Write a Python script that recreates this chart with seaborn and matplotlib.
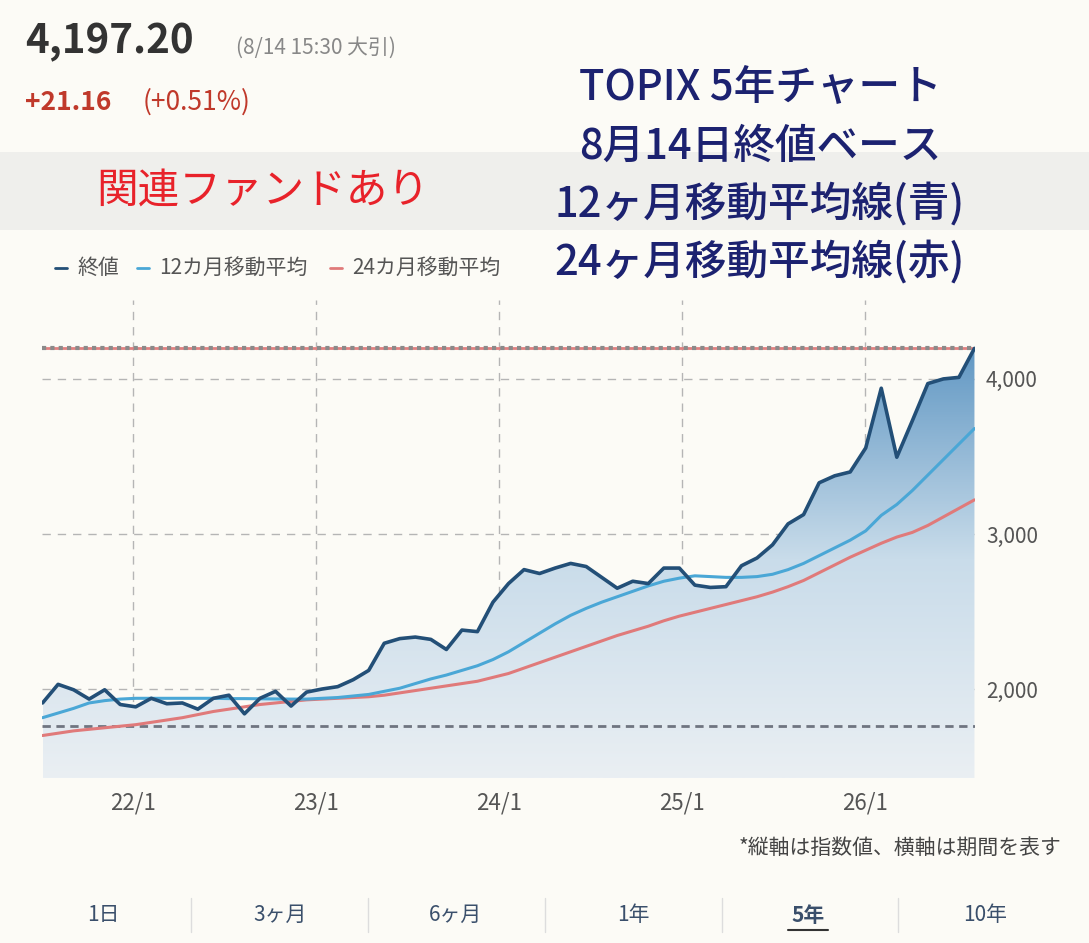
import numpy as np
import pandas as pd
import matplotlib
matplotlib.use('Agg')
import matplotlib.pyplot as plt
from matplotlib.patches import Rectangle
import seaborn as sns

# monthly points, first month ~ 2021/07
close = [1910, 2030, 1995, 1935, 1995, 1900, 1885, 1940, 1905, 1910, 1870, 1940, 1960, 1840,
         1940, 1985, 1890, 1980, 2000, 2015, 2060, 2120, 2295, 2325, 2335, 2320, 2255, 2380,
         2370, 2560, 2680, 2770, 2745, 2780, 2810, 2790, 2720, 2650, 2695, 2680, 2780, 2780,
         2670, 2655, 2660, 2795, 2845, 2930, 3065, 3125, 3330, 3375, 3400, 3555, 3940, 3495,
         3730, 3970, 4000, 4010, 4197]
ma12 = [1815, 1845, 1875, 1910, 1925, 1935, 1940, 1940, 1940, 1940, 1940, 1940, 1938, 1938,
        1937, 1936, 1935, 1935, 1940, 1945, 1955, 1965, 1985, 2005, 2035, 2065, 2090, 2120,
        2150, 2190, 2240, 2300, 2360, 2420, 2475, 2520, 2560, 2595, 2630, 2665, 2695, 2715,
        2730, 2725, 2720, 2720, 2725, 2740, 2770, 2810, 2860, 2910, 2960, 3020, 3120, 3190,
        3280, 3380, 3480, 3580, 3680]
ma24 = [1700, 1715, 1730, 1740, 1750, 1760, 1770, 1785, 1800, 1815, 1835, 1855, 1870, 1885,
        1900, 1910, 1920, 1930, 1935, 1940, 1945, 1950, 1960, 1975, 1990, 2005, 2020, 2035,
        2050, 2075, 2100, 2135, 2170, 2205, 2240, 2275, 2310, 2345, 2375, 2405, 2440, 2470,
        2495, 2520, 2545, 2570, 2595, 2625, 2660, 2700, 2750, 2800, 2850, 2895, 2940, 2980,
        3010, 3055, 3110, 3165, 3220]
last_value = 4197.20
low_line = 1760
year_ticks = [2022, 2023, 2024, 2025, 2026]
year_labels = ['22/1', '23/1', '24/1', '25/1', '26/1']
y_ticks = [2000, 3000, 4000]
tabs = ['1日', '3ヶ月', '6ヶ月', '1年', '5年', '10年']

t_start, t_end = 2021.503, 2026.596
t = np.linspace(t_start, t_end, len(close))
df = pd.DataFrame({'t': t, 'close': close, 'ma12': ma12, 'ma24': ma24})

sns.set_style('white')
plt.rcParams['font.family'] = ['Noto Sans CJK JP', 'DejaVu Sans']

W, H = 1089, 943
bg = '#fcfbf6'
fig = plt.figure(figsize=(W / 100, H / 100), dpi=100, facecolor=bg)

def fx(px):
    return px / W

def fy(py):
    return 1 - py / H

# light band behind fund label
fig.patches.append(Rectangle((0, fy(230)), 1, (230 - 152) / H, transform=fig.transFigure,
                             facecolor='#efefec', edgecolor='none', zorder=0))

ax = fig.add_axes([fx(42), fy(778), fx(975 - 42), (778 - 300) / H])
ax.set_facecolor(bg)
ax.set_xlim(t_start - 0.003, t_end + 0.003)
ax.set_ylim(1426, 4509)

# gradient fill under the close line
grad = np.linspace(0, 1, 256).reshape(-1, 1)
cmap = matplotlib.colors.LinearSegmentedColormap.from_list('g', ['#eaeff3', '#c9dcea', '#5d95c2'])
im = ax.imshow(grad, cmap=cmap, aspect='auto', origin='lower',
               extent=[t_start, t_end, 1426, 4250], zorder=1)
poly = ax.fill_between(df['t'], df['close'], 1426, color='none')
im.set_clip_path(poly.get_paths()[0], transform=ax.transData)

for v in y_ticks:
    ax.axhline(v, color='#b5b5b5', lw=1, ls=(0, (6, 5)), zorder=0.5)
for v in year_ticks:
    ax.axvline(v, color='#b5b5b5', lw=1, ls=(0, (6, 5)), zorder=0.5)

ax.axhline(last_value, color='#e08080', lw=2, zorder=3)
ax.axhline(last_value, color='#8a8a8a', lw=3, ls=(0, (1, 1)), zorder=3)
ax.axhline(low_line, color='#6f7580', lw=2, ls=(0, (3, 2)), zorder=3)

sns.lineplot(data=df, x='t', y='ma24', ax=ax, color='#e07a7a', lw=2.2, zorder=4)
sns.lineplot(data=df, x='t', y='ma12', ax=ax, color='#4aa7d6', lw=2.2, zorder=5)
sns.lineplot(data=df, x='t', y='close', ax=ax, color='#234f77', lw=2.6, zorder=6)

ax.set_xlabel('')
ax.set_ylabel('')
ax.set_xticks(year_ticks)
ax.set_xticklabels(year_labels)
ax.set_yticks(y_ticks)
ax.set_yticklabels([f'{v:,}' for v in y_ticks])
ax.yaxis.tick_right()
ax.tick_params(axis='x', length=0, pad=10, labelsize=16, labelcolor='#555555')
ax.tick_params(axis='y', length=0, pad=8, labelsize=15, labelcolor='#555555')
for s in ax.spines.values():
    s.set_visible(False)

# header
fig.text(fx(25), fy(42), '4,197.20', fontsize=29, fontweight='bold', color='#333333', va='center')
fig.text(fx(236), fy(48), '(8/14 15:30 大引)', fontsize=15, color='#888888', va='center')
fig.text(fx(25), fy(102), '+21.16', fontsize=19, fontweight='bold', color='#c0392b', va='center')
fig.text(fx(143), fy(102), '(+0.51%)', fontsize=19, color='#c0392b', va='center')
fig.text(fx(263), fy(192), '関連ファンドあり', fontsize=30, color='#e8222a', ha='center', va='center')

title = ['TOPIX 5年チャート', '8月14日終値ベース', '12ヶ月移動平均線(青)', '24ヶ月移動平均線(赤)']
for i, line in enumerate(title):
    fig.text(fx(760), fy(88 + i * 58), line, fontsize=30, color='#1c2270', ha='center', va='center',
             fontweight='medium')

# legend row
leg = [('終値', '#234f77', 55), ('12カ月移動平均', '#4aa7d6', 137), ('24カ月移動平均', '#e07a7a', 330)]
for lab, col, x0 in leg:
    fig.lines.append(plt.Line2D([fx(x0), fx(x0 + 12)], [fy(268)] * 2, color=col, lw=2,
                                transform=fig.transFigure))
    fig.text(fx(x0 + 22), fy(268), lab, fontsize=15, color='#555555', va='center')

fig.text(fx(1062), fy(848), '*縦軸は指数値、横軸は期間を表す', fontsize=15, color='#444444',
         ha='right', va='center')

# tabs
tab_x = [103, 280, 456, 633, 808, 985]
for i, (lab, x0) in enumerate(zip(tabs, tab_x)):
    bold = lab == '5年'
    fig.text(fx(x0), fy(915), lab, fontsize=15, color='#3a4f6b', ha='center', va='center',
             fontweight='bold' if bold else 'normal')
    if bold:
        fig.lines.append(plt.Line2D([fx(x0 - 20), fx(x0 + 20)], [fy(930)] * 2, color='#333333',
                                    lw=1.5, transform=fig.transFigure))
for xs in [191, 368, 545, 722, 898]:
    fig.lines.append(plt.Line2D([fx(xs)] * 2, [fy(898), fy(932)], color='#dddddd', lw=1,
                                transform=fig.transFigure))

fig.savefig('out.png', dpi=100, facecolor=bg)
